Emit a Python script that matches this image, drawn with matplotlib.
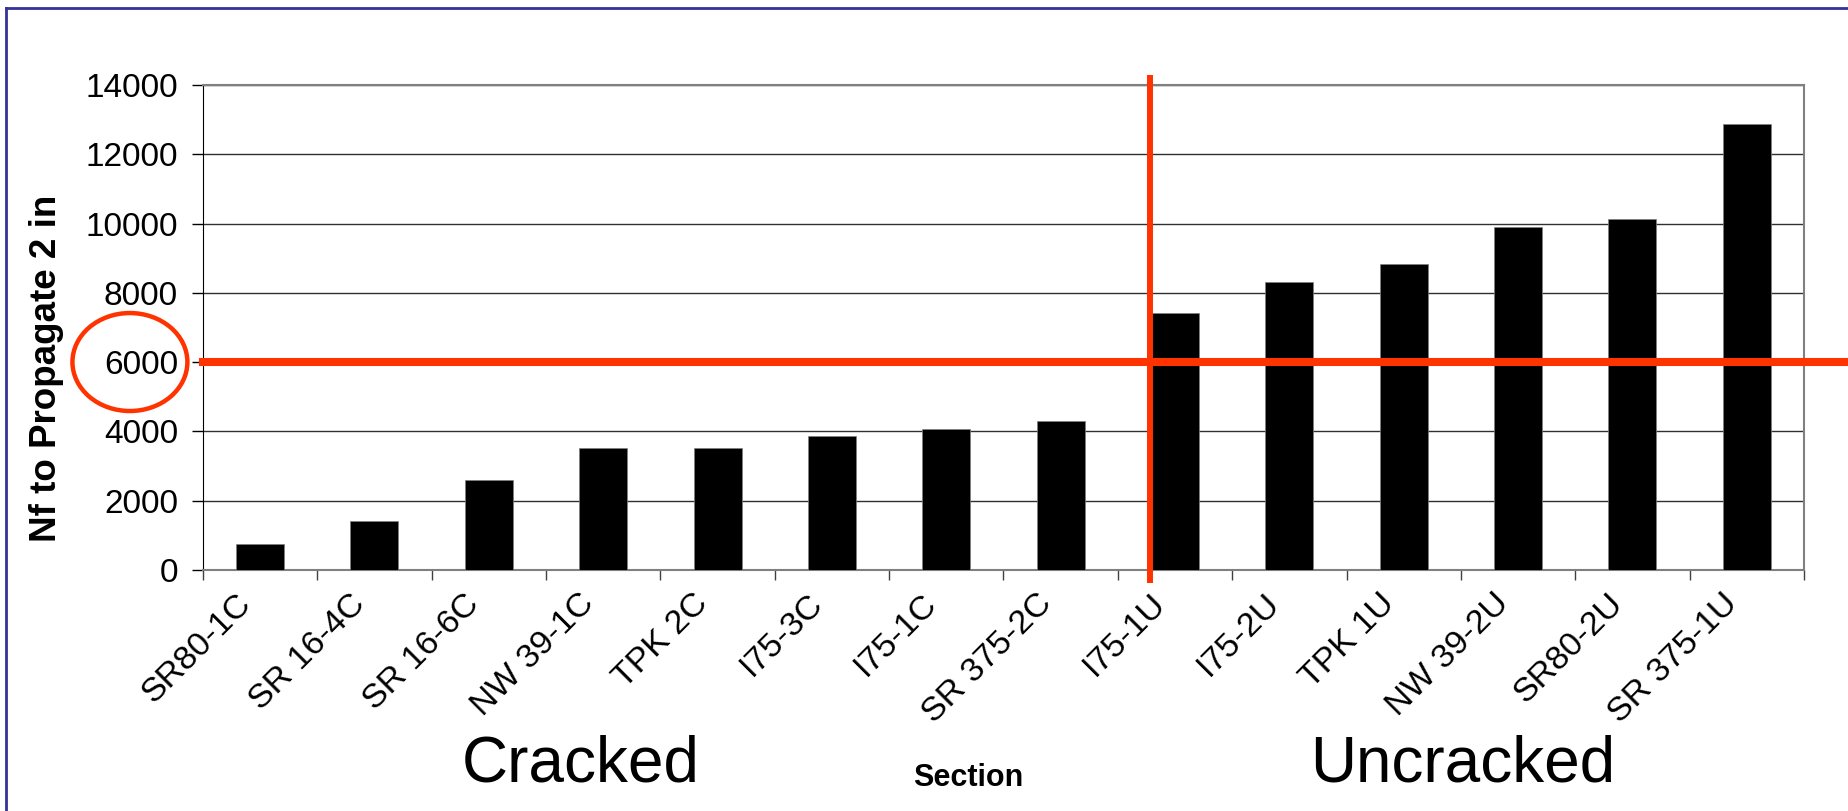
import numpy as np
import matplotlib.pyplot as plt
import matplotlib.transforms as mtransforms
from matplotlib.patches import Ellipse
from matplotlib.lines import Line2D

sections = ['SR80-1C', 'SR 16-4C', 'SR 16-6C', 'NW 39-1C', 'TPK 2C', 'I75-3C',
            'I75-1C', 'SR 375-2C', 'I75-1U', 'I75-2U', 'TPK 1U', 'NW 39-2U',
            'SR80-2U', 'SR 375-1U']
nf = [750, 1400, 2610, 3530, 3530, 3880, 4080, 4310,
      7420, 8320, 8820, 9900, 10140, 12870]
n_cracked = 8
threshold = 6000

red = '#FF3300'
plt.rcParams['font.family'] = ['Liberation Sans', 'DejaVu Sans']

fig = plt.figure(figsize=(18.48, 8.11), dpi=100)
ax = fig.add_axes([0.1098, 0.2972, 0.8664, 0.598])

x = np.arange(len(sections))
ax.bar(x, nf, width=0.42, color='black', edgecolor='#808080', linewidth=0.5, zorder=3)
ax.set_xlim(-0.5, len(sections) - 0.5)
ax.set_ylim(0, 14000)
ax.set_yticks(range(0, 14001, 2000))
ax.yaxis.grid(True, color='#303030', lw=1)
ax.set_axisbelow(True)
ax.tick_params(axis='y', direction='out', length=8, width=1, labelsize=24, pad=10)

ax.set_xticks(x)
ax.set_xticklabels(sections, rotation=45, ha='right', va='center',
                   rotation_mode='anchor', fontsize=24.5)
ax.tick_params(axis='x', which='major', length=0, pad=21)
ax.set_xticks(np.arange(-0.5, len(sections), 1), minor=True)
ax.tick_params(axis='x', which='minor', direction='out', length=7, width=1, color='#404040')
shift = mtransforms.ScaledTranslation(-14 / 100, 0, fig.dpi_scale_trans)
for lab in ax.get_xticklabels():
    lab.set_transform(lab.get_transform() + shift)

for s in ['top', 'right', 'bottom']:
    ax.spines[s].set_color('#808080')
    ax.spines[s].set_linewidth(1.5)
ax.spines['left'].set_color('black')

# threshold lines
ax.axhline(threshold, xmin=0, xmax=1.0275, color=red, lw=5.8, clip_on=False, zorder=5)
ax.axvline(n_cracked - 0.22, ymin=-0.0206, ymax=1.0144, color=red, lw=4.3,
           clip_on=False, zorder=5)

fig.add_artist(Ellipse((0.0703, 0.5536), 0.0622, 0.1208, transform=fig.transFigure,
                       fill=False, ec=red, lw=3.2))

# slide frame
fig.add_artist(Line2D([0.0032, 0.0032], [0, 0.990], transform=fig.transFigure,
                      color='#333399', lw=2))
fig.add_artist(Line2D([0.0032, 1], [0.990, 0.990], transform=fig.transFigure,
                      color='#333399', lw=2))

fig.text(47 / 1848, 0.546, 'Nf to Propagate 2 in', rotation=90, fontsize=26.5,
         fontweight='bold', ha='center', va='center')
fig.text(581 / 1848, 1 - 764 / 811, 'Cracked', fontsize=46, ha='center', va='center')
fig.text(1463 / 1848, 1 - 764 / 811, 'Uncracked', fontsize=46, ha='center', va='center')
fig.text(968 / 1848, 1 - 778 / 811, 'Section', fontsize=22, fontweight='bold',
         ha='center', va='center')

fig.savefig('out.png', dpi=100)
